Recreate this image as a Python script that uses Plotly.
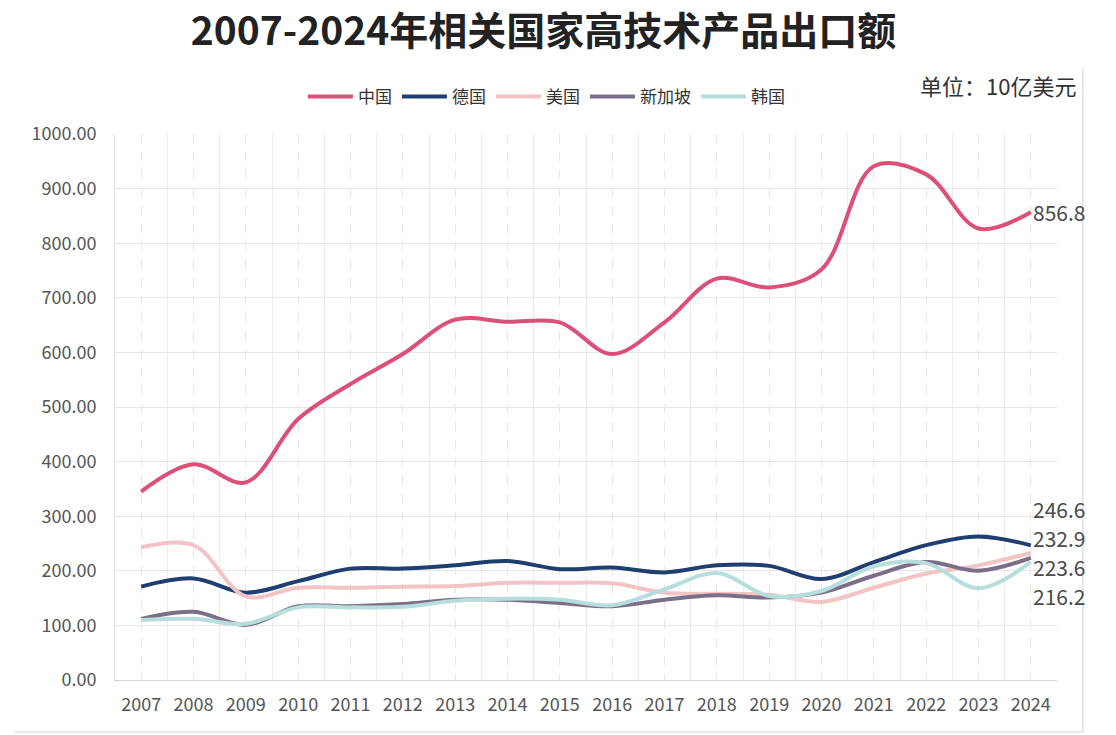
import plotly.graph_objects as go

years = [str(y) for y in range(2007, 2025)]
china = [345, 395, 362, 478, 542, 597, 660, 656, 655, 597, 655, 735, 719, 752, 941, 926, 827, 856.8]
germany = [171, 186, 160, 181, 204, 204, 210, 218, 203, 206, 197, 210, 209, 185, 216, 247, 263, 246.6]
usa = [243, 247, 153, 169, 169, 171, 172, 178, 178, 177, 160, 158, 156, 143, 169, 195, 210, 232.9]
singapore = [112, 125, 101, 135, 135, 139, 147, 147, 141, 135, 147, 155, 151, 160, 191, 216, 200, 223.6]
korea = [110, 112, 103, 133, 133, 134, 145, 149, 147, 137, 166, 196, 154, 163, 208, 214, 168, 216.2]

names = ["中国", "德国", "美国", "新加坡", "韩国"]
series = [china, germany, usa, singapore, korea]
colors = ["#dc5078", "#1e3f6f", "#f2c4c6", "#7b6f88", "#b6dedd"]
label_shift = [0, 36, 15, -9, -34]

FONT = "Noto Sans CJK SC"
xs = list(range(len(years)))

fig = go.Figure()
for name, vals, col in zip(names, series, colors):
    fig.add_trace(go.Scatter(
        x=xs, y=vals, name=name, mode="lines",
        line=dict(color=col, width=4, shape="spline", smoothing=1.0),
        hoverinfo="skip",
    ))

for vals, shift in zip(series, label_shift):
    fig.add_annotation(
        x=xs[-1], y=vals[-1], text=f"{vals[-1]:.1f}", showarrow=False,
        xanchor="left", yanchor="middle", xshift=0, yshift=shift, height=22,
        font=dict(family=FONT, size=21, color="#4a4a4a"),
    )

fig.add_annotation(
    xref="paper", yref="paper", x=1.0223, y=1.0897,
    text="单位：10亿美元", showarrow=False, xanchor="right", yanchor="middle",
    font=dict(family=FONT, size=22, color="#333333"),
)

# container borders (right and bottom)
fig.add_shape(type="line", xref="paper", yref="paper", x0=1.0275, x1=1.0275, y0=-0.095, y1=1.12,
              line=dict(color="#d0d0d0", width=1))
fig.add_shape(type="line", xref="paper", yref="paper", x0=-0.106, x1=1.0275, y0=-0.095, y1=-0.095,
              line=dict(color="#d0d0d0", width=1))

fig.update_layout(
    width=1116, height=735,
    margin=dict(l=115, r=59, t=134, b=55),
    paper_bgcolor="white", plot_bgcolor="white",
    title=dict(text="<b>2007-2024年相关国家高技术产品出口额</b>", x=0.487, xanchor="center",
               y=0.958, yanchor="middle",
               font=dict(family=FONT, size=39, color="#222222")),
    legend=dict(orientation="h", x=0.458, xanchor="center", y=1.068, yanchor="middle",
                yref="paper", font=dict(family=FONT, size=17, color="#333333"),
                itemwidth=45, bgcolor="rgba(0,0,0,0)"),
    showlegend=True,
    xaxis=dict(
        range=[-0.5, len(years) - 0.5],
        tickmode="array", tickvals=xs, ticktext=years,
        tickfont=dict(family=FONT, size=18, color="#555555"),
        showgrid=True, gridcolor="#e6e6e6", griddash="dash", gridwidth=1,
        minor=dict(tickmode="array", tickvals=[i - 0.5 for i in range(len(years) + 1)],
                   showgrid=True, gridcolor="#ececec", griddash="solid", gridwidth=1),
        showline=True, linecolor="#d6d6d6", zeroline=False, ticks="",
        ticklabelstandoff=8,
    ),
    yaxis=dict(
        range=[0, 1000], dtick=100, tickformat=".2f",
        tickfont=dict(family=FONT, size=18, color="#555555"),
        showgrid=True, gridcolor="#e6e6e6", gridwidth=1,
        showline=True, linecolor="#e0e0e0", zeroline=False, ticks="",
        ticklabelstandoff=14,
    ),
)

fig.write_html("out.html")
